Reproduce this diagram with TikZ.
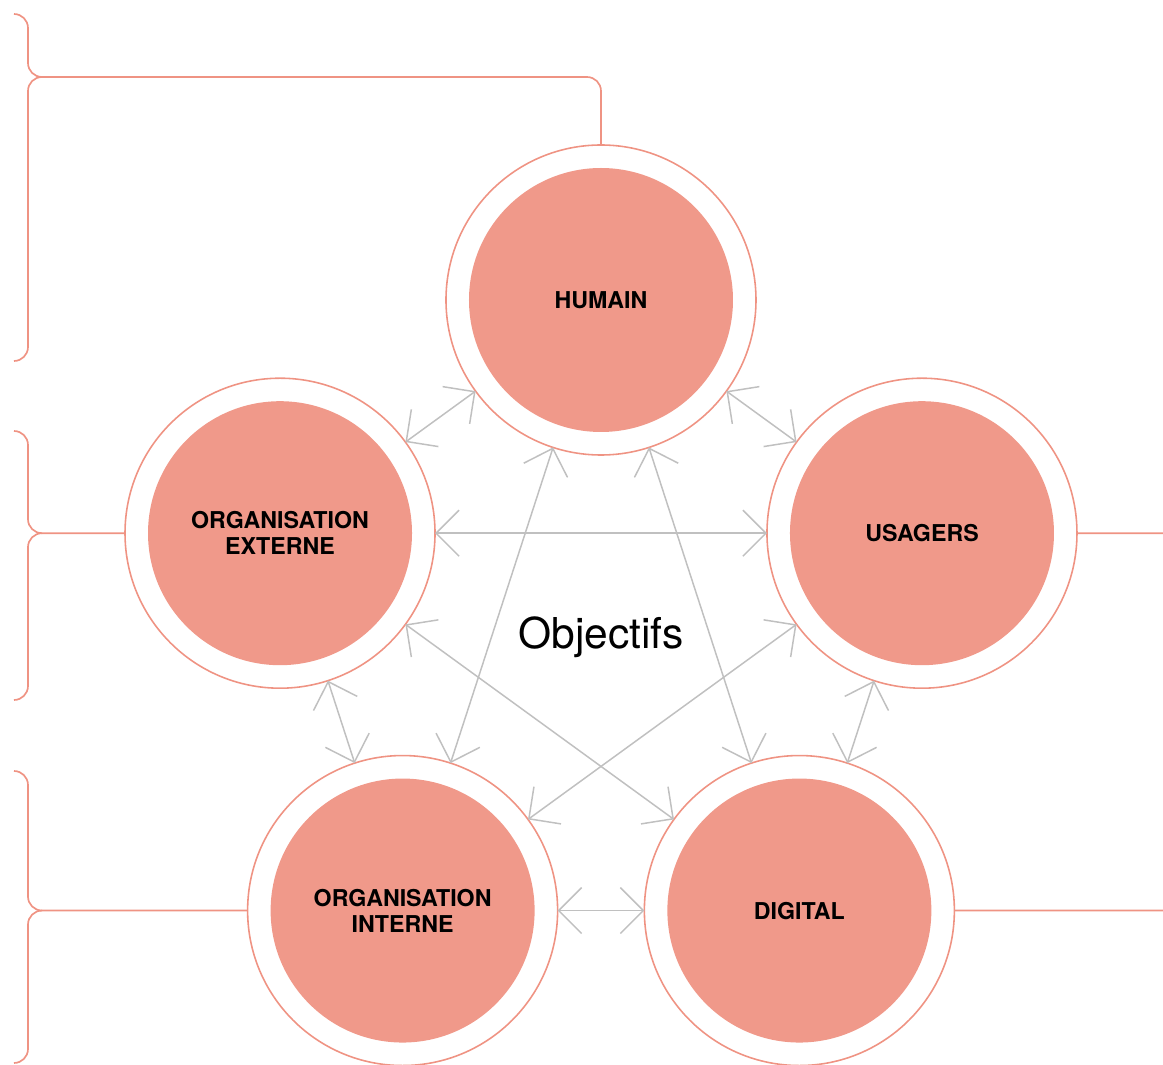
\documentclass[tikz,border=0pt]{standalone}
\usepackage{fontspec}
\setmainfont{TeX Gyre Heros}
\usetikzlibrary{arrows.meta}
\definecolor{saumon}{HTML}{F0998A}
\definecolor{trait}{HTML}{EF9383}
\definecolor{fleche}{HTML}{C0C0C0}

\begin{document}
\begin{tikzpicture}
    [
        ring/.style = {
            circle, draw=trait, line width=0.9pt, minimum size=6.2cm,
            inner sep=0pt, outer sep=0pt
            },
        pole/.style = {
            circle, fill=saumon, minimum size=5.28cm, inner sep=0pt,
            align=center, font=\fontsize{13.2}{14.7}\selectfont\bfseries
            },
        link/.style = {
            draw=fleche, line width=0.85pt,
            {Straight Barb[length=0.46cm, width=0.92cm]}-{Straight Barb[length=0.46cm, width=0.92cm]}
            },
        brace/.style = {
            draw=trait, line width=0.95pt, rounded corners=0.28cm
            },
    ]
    \useasboundingbox (-12.02,-8.55) rectangle (11.24,12.75);

    \node (objectifs) at (0,0) {\fontsize{24.2}{28}\selectfont Objectifs};

    \node[ring] (humain) at (90:6.75) {};
    \node[ring] (orgext) at (162:6.75) {};
    \node[ring] (usagers) at (18:6.75) {};
    \node[ring] (orgint) at (234:6.75) {};
    \node[ring] (digital) at (306:6.75) {};

    \node[pole] (humain-in) at (humain) {HUMAIN};
    \node[pole] (orgext-in) at (orgext) {ORGANISATION\\EXTERNE};
    \node[pole] (usagers-in) at (usagers) {USAGERS};
    \node[pole] (orgint-in) at (orgint) {ORGANISATION\\INTERNE};
    \node[pole] (digital-in) at (digital) {DIGITAL};

    \foreach \a/\b in {humain/orgext, humain/usagers, humain/orgint, humain/digital,
                       orgext/usagers, orgext/orgint, orgext/digital,
                       usagers/orgint, usagers/digital, orgint/digital}
        \draw[link] (\a) -- (\b);

    % accolades a gauche
    \coordinate (tip-humain) at (-11.18,11.21);
    \coordinate (tip-orgext) at (-11.18,2.086);
    \coordinate (tip-orgint) at (-11.18,-5.461);

    \draw[brace] (-11.74,12.47) -| (-11.46,11.21) -- (tip-humain);
    \draw[brace] (tip-humain) -- (-11.46,11.21) |- (-11.74,5.53);
    \draw[brace] (tip-humain) -| (humain.north);

    \draw[brace] (-11.74,4.13) -| (-11.46,2.086) -- (tip-orgext);
    \draw[brace] (tip-orgext) -- (-11.46,2.086) |- (-11.74,-1.25);
    \draw[brace] (tip-orgext) -- (orgext.west);

    \draw[brace] (-11.74,-2.67) -| (-11.46,-5.461) -- (tip-orgint);
    \draw[brace] (tip-orgint) -- (-11.46,-5.461) |- (-11.74,-8.51);
    \draw[brace] (tip-orgint) -- (orgint.west);

    % traits a droite
    \coordinate (end-usagers) at (11.24,2.086);
    \coordinate (end-digital) at (11.24,-5.461);
    \draw[brace] (usagers.east) -- (end-usagers);
    \draw[brace] (digital.east) -- (end-digital);
\end{tikzpicture}
\end{document}
